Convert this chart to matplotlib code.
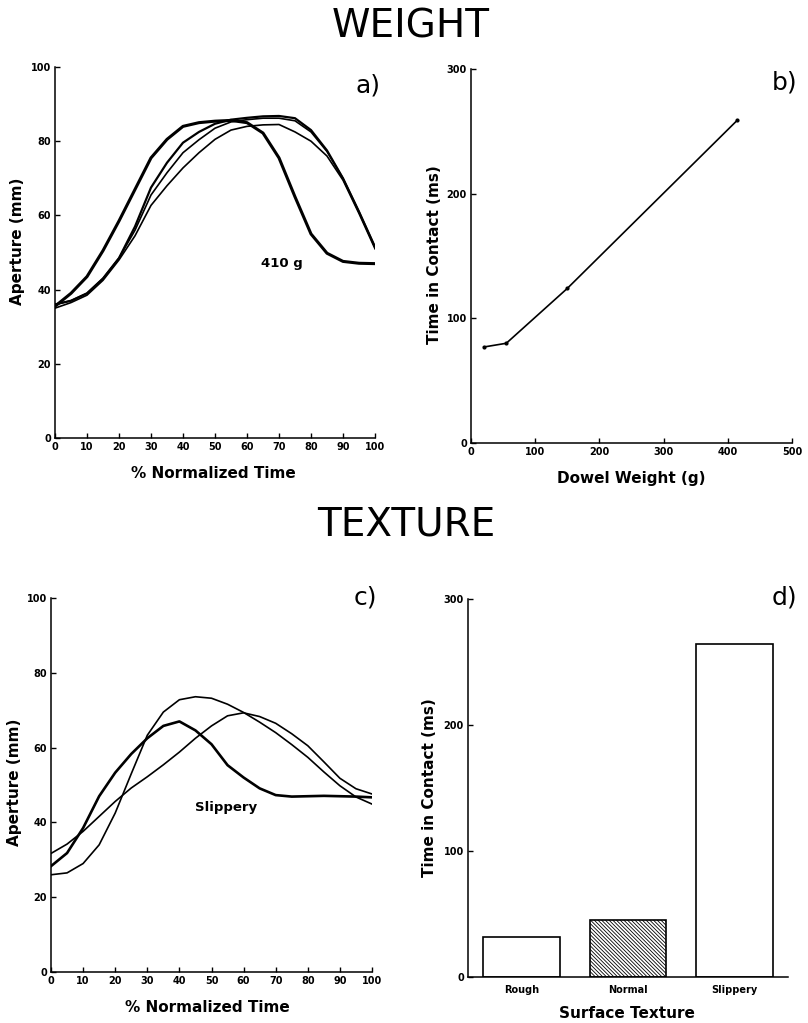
import numpy as np
import matplotlib
matplotlib.use('Agg')
import matplotlib.pyplot as plt

plt.rcParams['font.family'] = ['DejaVu Sans']
plt.rcParams['hatch.linewidth'] = 0.6
plt.rcParams['lines.solid_joinstyle'] = 'round'

# ---- a) aperture vs normalized time, dowel weight ----
t_norm = np.arange(0, 101, 5)
ap_410g = [35.5, 39, 43.5, 50.5, 58.5, 67, 75.5, 80.5, 84, 85, 85.4, 85.6, 85,
           82.2, 75.5, 65, 55, 49.8, 47.6, 47.1, 47]
ap_w2 = [36, 37, 39, 43, 48.5, 57, 67.5, 74.2, 79.6, 82.5, 84.7, 85.8, 86.3,
         86.7, 86.8, 86.2, 83, 77.5, 70, 61, 51.5]
ap_w3 = [36, 37, 39, 43, 48.5, 56, 65.5, 71.5, 76.9, 80.4, 83.5, 85.2, 85.8,
         86.2, 86.2, 85.5, 82.5, 77.2, 70, 61, 51.5]
ap_w4 = [35, 36.5, 38.5, 42.5, 48, 54.5, 62.7, 68, 72.8, 76.9, 80.5, 83, 84,
         84.4, 84.5, 82.5, 80, 76, 69.5, 60.5, 51]

# ---- b) time in contact vs dowel weight ----
dowel_weight = [20, 55, 150, 415]
contact_weight = [77, 80, 124, 259]

# ---- c) aperture vs normalized time, texture ----
ap_slippery = [28.3, 31.8, 38.5, 47, 53.3, 58.3, 62.5, 65.8, 67, 64.6, 60.9,
               55.3, 52, 49.1, 47.3, 46.9, 47, 47.1, 47, 46.9, 46.7]
ap_t2 = [26, 26.5, 29, 34, 42.5, 53, 63.3, 69.5, 72.8, 73.6, 73.2, 71.6, 69.4,
         66.8, 64, 60.8, 57.4, 53.5, 49.8, 46.8, 44.9]
ap_t3 = [31.7, 34.2, 37.6, 41.6, 45.6, 49.2, 52.2, 55.4, 58.8, 62.5, 65.8, 68.5,
         69.3, 68.3, 66.5, 63.7, 60.5, 56.2, 51.8, 49, 47.6]

# ---- d) time in contact vs surface texture ----
textures = ['Rough', 'Normal', 'Slippery']
contact_texture = [31.5, 45, 264]
hatches = ['', '\\' * 9, '']

W, H = 808, 1023
fig = plt.figure(figsize=(W/100, H/100), dpi=100)

def px_axes(l, r, t, b):
    return fig.add_axes([l/W, 1 - b/H, (r-l)/W, (b-t)/H])

def style(ax):
    for s in ['top', 'right']:
        ax.spines[s].set_visible(False)
    for s in ['left', 'bottom']:
        ax.spines[s].set_linewidth(1.1)
    ax.tick_params(direction='in', length=3.5, width=1.0, labelsize=7, pad=3)
    for lb in ax.get_xticklabels() + ax.get_yticklabels():
        lb.set_fontweight('bold')

def labels(ax, xl, yl, xc, yc):
    ax.set_xlabel(xl, fontsize=11, fontweight='bold')
    ax.set_ylabel(yl, fontsize=11, fontweight='bold')
    ax.xaxis.set_label_coords(*xc)
    ax.yaxis.set_label_coords(*yc)

fig.text(411/W, 1 - 38/H, 'WEIGHT', fontsize=28, ha='center', va='baseline')
fig.text(406/W, 1 - 535/H, 'TEXTURE', fontsize=28, ha='center', va='baseline')

# a)
ax = px_axes(55, 375, 67, 438)
ax.plot(t_norm, ap_w4, 'k-', lw=1.2)
ax.plot(t_norm, ap_w3, 'k-', lw=1.2)
ax.plot(t_norm, ap_w2, 'k-', lw=1.6)
ax.plot(t_norm, ap_410g, 'k-', lw=2.2)
ax.text(71, 47, '410 g', fontsize=9.5, fontweight='bold', ha='center', va='center')
ax.set_xlim(0, 100); ax.set_ylim(0, 100)
ax.set_xticks(range(0, 101, 10)); ax.set_yticks(range(0, 101, 20))
style(ax)
labels(ax, '% Normalized Time', 'Aperture (mm)', (0.495, -0.075), (-0.094, 0.53))
ax.text(1.016, 0.951, 'a)', transform=ax.transAxes, fontsize=18, ha='right', va='center')

# b)
ax = px_axes(471, 792, 69, 443)
ax.plot(dowel_weight, contact_weight, 'k-', lw=1.2, marker='o', ms=2)
ax.set_xlim(0, 500); ax.set_ylim(0, 300)
ax.set_xticks(range(0, 501, 100)); ax.set_yticks(range(0, 301, 100))
style(ax)
labels(ax, 'Dowel Weight (g)', 'Time in Contact (ms)', (0.50, -0.075), (-0.09, 0.503))
ax.text(1.016, 0.965, 'b)', transform=ax.transAxes, fontsize=18, ha='right', va='center')

# c)
ax = px_axes(51, 372, 598, 972)
ax.plot(t_norm, ap_t3, 'k-', lw=1.2)
ax.plot(t_norm, ap_t2, 'k-', lw=1.2)
ax.plot(t_norm, ap_slippery, 'k-', lw=1.9)
ax.text(54.5, 44, 'Slippery', fontsize=9.5, fontweight='bold', ha='center', va='center')
ax.set_xlim(0, 100); ax.set_ylim(0, 100)
ax.set_xticks(range(0, 101, 10)); ax.set_yticks(range(0, 101, 20))
style(ax)
labels(ax, '% Normalized Time', 'Aperture (mm)', (0.486, -0.075), (-0.09, 0.508))
ax.text(1.016, 1.0, 'c)', transform=ax.transAxes, fontsize=18, ha='right', va='center')

# d)
ax = px_axes(468, 788, 599, 977)
xpos = np.arange(len(textures))
bars = ax.bar(xpos, contact_texture, width=0.72, color='white', edgecolor='black', lw=1.2)
for b, h in zip(bars, hatches):
    b.set_hatch(h)
ax.set_xlim(-0.5, 2.5); ax.set_ylim(0, 300)
ax.set_xticks(xpos); ax.set_xticklabels(textures)
ax.set_yticks(range(0, 301, 100))
style(ax)
ax.tick_params(axis='x', length=0, pad=6)
labels(ax, 'Surface Texture', 'Time in Contact (ms)', (0.497, -0.078), (-0.097, 0.5))
ax.text(1.028, 1.003, 'd)', transform=ax.transAxes, fontsize=18, ha='right', va='center')

fig.savefig('out.png', dpi=100)
